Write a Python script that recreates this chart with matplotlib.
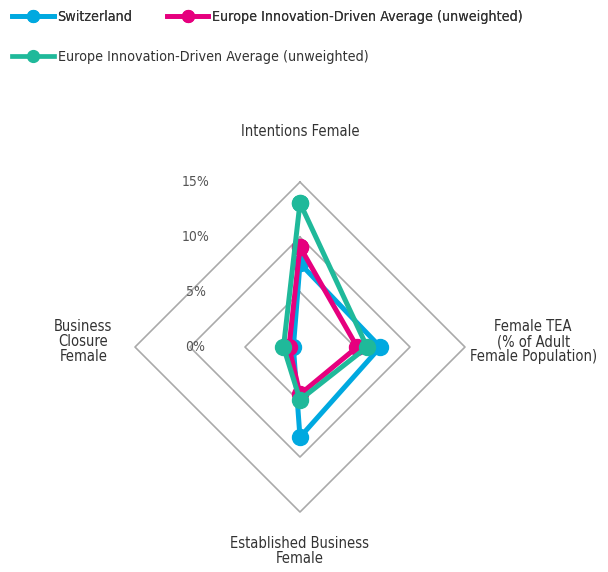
import matplotlib
matplotlib.use('Agg')
import matplotlib.pyplot as plt
from matplotlib.lines import Line2D

plt.rcParams['font.family'] = ['DejaVu Sans']
plt.rcParams['font.stretch'] = 'condensed'

# radar axes, clockwise from top
categories = ["Intentions Female",
              "Female TEA\n(% of Adult\nFemale Population)",
              "Established Business\nFemale",
              "Business\nClosure\nFemale"]
switzerland = [7.6, 7.3, 8.2, 0.6]
europe_pink = [9.1, 5.2, 4.3, 1.0]
europe_teal = [13.1, 6.1, 4.8, 1.5]
grid_levels = [5, 10, 15]
tick_values = [0, 5, 10, 15]
tick_labels = ["0%", "5%", "10%", "15%"]

series = [
    ("Switzerland", switzerland, "#00A9E0"),
    ("Europe Innovation-Driven Average (unweighted)", europe_pink, "#E6007E"),
    ("Europe Innovation-Driven Average (unweighted)", europe_teal, "#1FB99A"),
]

# unit direction of each spoke (top, right, bottom, left)
dirs = [(0, 1), (1, 0), (0, -1), (-1, 0)]


def to_xy(vals):
    xs = [d[0] * v for d, v in zip(dirs, vals)]
    ys = [d[1] * v for d, v in zip(dirs, vals)]
    return xs + xs[:1], ys + ys[:1]


fig = plt.figure(figsize=(6.08, 5.72), dpi=100)
ax = fig.add_axes([0.1949, 0.076, 0.597, 0.6346])
ax.set_xlim(-16.5, 16.5)
ax.set_ylim(-16.5, 16.5)
ax.axis('off')

# diamond grid
for lv in grid_levels:
    gx, gy = to_xy([lv] * 4)
    ax.plot(gx, gy, color="#AAAAAA", lw=1.2, zorder=1)

for v, lab in zip(tick_values, tick_labels):
    ax.text(-9.5, v, lab, ha='center', va='center', fontsize=10, color="#555555")

handles = []
for name, vals, col in series:
    x, y = to_xy(vals)
    ax.plot(x, y, color=col, lw=3.6, marker='o', markersize=11.5,
            solid_joinstyle='miter', zorder=3)
    handles.append(Line2D([0], [0], color=col, lw=3.4, marker='o', markersize=8.5))

# category labels
txt = dict(fontsize=10.5, color="#333333", linespacing=1.0)
ax.text(0, 19.6, categories[0], ha='center', va='center', **txt)
ax.text(21.2, 0.5, categories[1], ha='center', va='center', **txt)
ax.text(0, -18.5, categories[2], ha='center', va='center', **txt)
ax.text(-19.7, 0.5, categories[3], ha='center', va='center', **txt)

leg_kw = dict(loc='upper left', frameon=False, fontsize=10.3,
              handlelength=2.9, handletextpad=0.25, labelcolor="#333333",
              borderaxespad=0.3)
leg1 = fig.legend(handles[:2], [s[0] for s in series[:2]], ncol=2,
                  bbox_to_anchor=(0.004, 1.0), columnspacing=2.4, **leg_kw)
fig.add_artist(leg1)
fig.legend(handles[2:], [series[2][0]], bbox_to_anchor=(0.004, 0.93), **leg_kw)

fig.savefig("out.png", dpi=100)
